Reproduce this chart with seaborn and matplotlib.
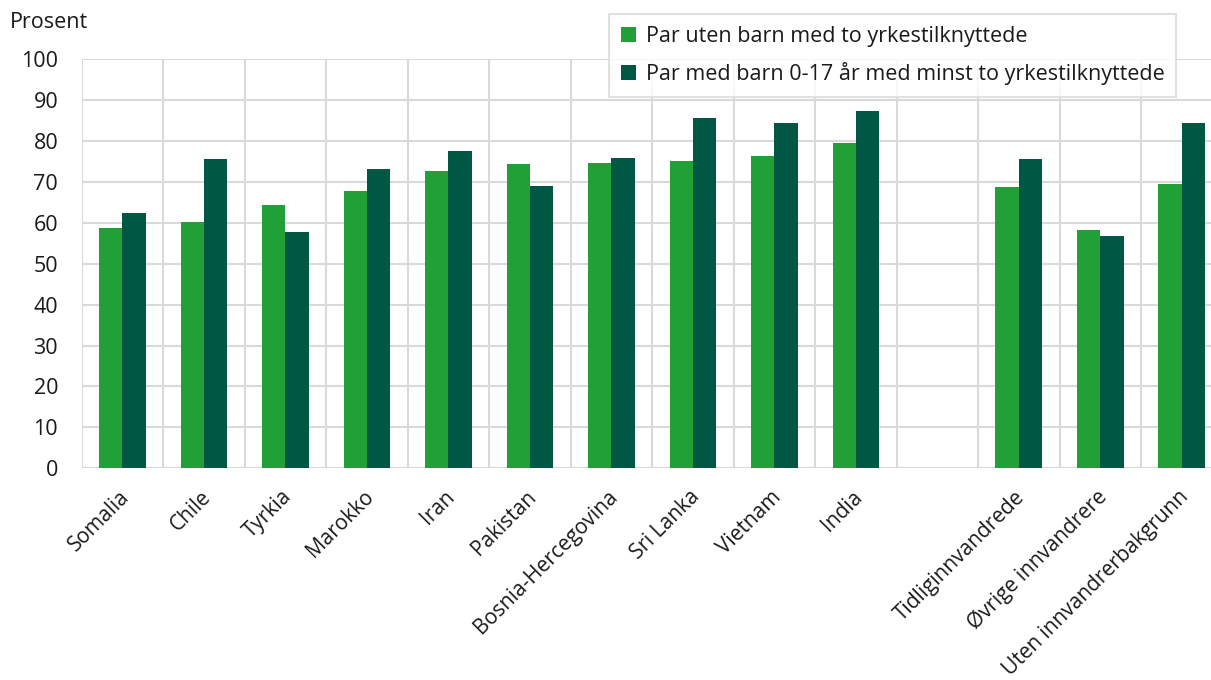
import numpy as np
import pandas as pd
import seaborn as sns
import matplotlib.pyplot as plt
import matplotlib.transforms as mtransforms
from matplotlib.ticker import FixedLocator

# categories ("" is the empty gap slot between India and the group totals)
categories = ["Somalia", "Chile", "Tyrkia", "Marokko", "Iran", "Pakistan",
              "Bosnia-Hercegovina", "Sri Lanka", "Vietnam", "India", "",
              "Tidliginnvandrede", "Øvrige innvandrere",
              "Uten innvandrerbakgrunn"]
uten_barn = [58.6, 60.2, 64.3, 67.8, 72.6, 74.4, 74.5, 75.0, 76.3, 79.4,
             np.nan, 68.7, 58.2, 69.5]
med_barn = [62.4, 75.6, 57.7, 73.0, 77.5, 68.9, 75.7, 85.5, 84.4, 87.4,
            np.nan, 75.6, 56.8, 84.3]
series = ["Par uten barn med to yrkestilknyttede",
          "Par med barn 0-17 år med minst to yrkestilknyttede"]
yticks = list(range(0, 101, 10))

green = "#21a038"
dark = "#005744"
grid_col = "#d9d9d9"

df = pd.DataFrame({
    "kategori": categories * 2,
    "serie": [series[0]] * len(categories) + [series[1]] * len(categories),
    "verdi": uten_barn + med_barn,
})

sns.set_style("white")
plt.rcParams["font.family"] = ["Open Sans", "DejaVu Sans"]
plt.rcParams["text.color"] = "#1a1a1a"

fig = plt.figure(figsize=(12.11, 6.8), dpi=100)
ax = fig.add_axes([0.0675, 0.3113, 0.942, 0.602])

sns.barplot(data=df, x="kategori", y="verdi", hue="serie", order=categories,
            hue_order=series, palette=[green, dark], width=0.572,
            saturation=1, linewidth=0, ax=ax)

ax.set_xlim(-0.5, len(categories) - 0.5)
ax.set_ylim(0, 100)
ax.set_yticks(yticks)
ax.set_xlabel("")
ax.set_ylabel("")

ax.xaxis.set_minor_locator(FixedLocator(np.arange(-0.5, len(categories), 1)))
ax.grid(False)
ax.grid(True, axis="x", which="minor", color=grid_col, linewidth=1.5)
ax.grid(True, axis="y", which="major", color=grid_col, linewidth=1.5)
ax.set_axisbelow(True)
for s in ax.spines.values():
    s.set_visible(False)

ax.tick_params(axis="y", length=0, pad=17, labelsize=15.5, labelcolor="#1a1a1a")
ax.tick_params(axis="x", which="both", length=0, pad=13, labelsize=15,
               labelcolor="#1a1a1a")
shift = mtransforms.ScaledTranslation(-4 / 100, 0, fig.dpi_scale_trans)
for lab in ax.get_xticklabels():
    lab.set_rotation(45)
    lab.set_ha("right")
    lab.set_rotation_mode("anchor")
    lab.set_transform(lab.get_transform() + shift)

fig.text(10 / 1211, 1 - 22 / 680, "Prosent", fontsize=15.5, va="center",
         ha="left", color="#1a1a1a")

leg = ax.legend(loc="upper left", bbox_to_anchor=(609 / 1211, 1 - 14 / 680),
                bbox_transform=fig.transFigure, frameon=True, fancybox=False,
                fontsize=15.5, handlelength=0.7, handleheight=0.7,
                handletextpad=0.45, labelspacing=0.7, borderpad=0.55,
                borderaxespad=0)
leg.get_frame().set_edgecolor(grid_col)
leg.get_frame().set_linewidth(1.5)

fig.savefig("out.png", dpi=100)
